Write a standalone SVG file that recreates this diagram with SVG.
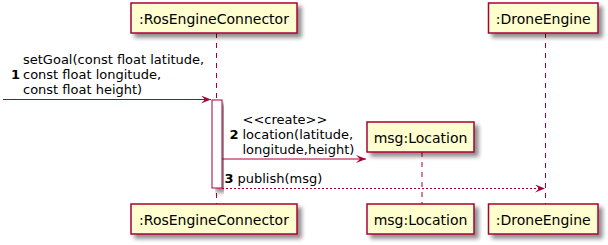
<svg xmlns="http://www.w3.org/2000/svg" width="608" height="245" viewBox="0 0 608 245">
  <defs>
    <filter id="shadow" x="-10%" y="-20%" width="130%" height="160%">
      <feGaussianBlur in="SourceAlpha" stdDeviation="2"/>
      <feOffset dx="4" dy="4" result="b"/>
      <feComponentTransfer><feFuncA type="linear" slope="0.45"/></feComponentTransfer>
      <feMerge><feMergeNode/><feMergeNode in="SourceGraphic"/></feMerge>
    </filter>
    <marker id="head" markerWidth="10" markerHeight="8" refX="10" refY="4" orient="auto" markerUnits="userSpaceOnUse">
      <polygon points="0,0 10,4 0,8 4,4" fill="#A80036"/>
    </marker>
  </defs>
  <style>
    .box { fill: #FEFECE; stroke: #A80036; stroke-width: 1.5; }
    .act { fill: #FFFFFF; stroke: #A80036; stroke-width: 1; }
    .life { stroke: #A80036; stroke-width: 1; stroke-dasharray: 5 5; fill: none; }
    .msg { stroke: #A80036; stroke-width: 1; fill: none; }
    .dotted { stroke-dasharray: 2 2; }
    .pname { font-family: "DejaVu Sans", sans-serif; font-size: 14px; fill: #000; text-anchor: middle; }
    .mtext { font-family: "DejaVu Sans", sans-serif; font-size: 13px; fill: #000; }
    .num { font-weight: bold; }
  </style>

  <!-- lifelines -->
  <g id="lifelines">
    <line class="life" x1="216.5" y1="33" x2="216.5" y2="204"/>
    <line class="life" x1="422" y1="152" x2="422" y2="204"/>
    <line class="life" x1="545.5" y1="33" x2="545.5" y2="204"/>
  </g>

  <g id="activation">
    <rect class="act" x="212" y="100" width="10" height="88" filter="url(#shadow)"/>
  </g>

  <g id="RosEngineConnector">
    <rect class="box" x="131" y="3" width="166" height="30" filter="url(#shadow)"/>
    <text class="pname" x="214" y="23.5">:RosEngineConnector</text>
    <rect class="box" x="131" y="204" width="166" height="30" filter="url(#shadow)"/>
    <text class="pname" x="214" y="224.5">:RosEngineConnector</text>
  </g>

  <g id="Location">
    <rect class="box" x="367" y="122" width="107" height="30" filter="url(#shadow)"/>
    <text class="pname" x="420.5" y="142.5">msg:Location</text>
    <rect class="box" x="367" y="204" width="107" height="30" filter="url(#shadow)"/>
    <text class="pname" x="420.5" y="224.5">msg:Location</text>
  </g>

  <g id="DroneEngine">
    <rect class="box" x="488.5" y="3" width="109.5" height="30" filter="url(#shadow)"/>
    <text class="pname" x="543.25" y="23.5">:DroneEngine</text>
    <rect class="box" x="488.5" y="204" width="109.5" height="30" filter="url(#shadow)"/>
    <text class="pname" x="543.25" y="224.5">:DroneEngine</text>
  </g>

  <g id="connectors">
    <!-- 1: incoming call -->
    <line class="msg" x1="3" y1="99.5" x2="211" y2="99.5" marker-end="url(#head)"/>
    <text class="mtext num" x="11" y="79">1</text>
    <text class="mtext" x="23" y="64">setGoal(const float latitude,</text>
    <text class="mtext" x="23" y="79">const float longitude,</text>
    <text class="mtext" x="23" y="94">const float height)</text>

    <!-- 2: create -->
    <line class="msg" x1="222" y1="159" x2="366" y2="159" marker-end="url(#head)"/>
    <text class="mtext num" x="229.5" y="138.5">2</text>
    <text class="mtext" x="242.5" y="123.5">&lt;&lt;create&gt;&gt;</text>
    <text class="mtext" x="242.5" y="138.5">location(latitude,</text>
    <text class="mtext" x="242.5" y="153.5">longitude,height)</text>

    <!-- 3: publish -->
    <line class="msg dotted" x1="222" y1="188.5" x2="545" y2="188.5" marker-end="url(#head)"/>
    <text class="mtext num" x="224.5" y="183">3</text>
    <text class="mtext" x="237.5" y="183">publish(msg)</text>
  </g>
</svg>
